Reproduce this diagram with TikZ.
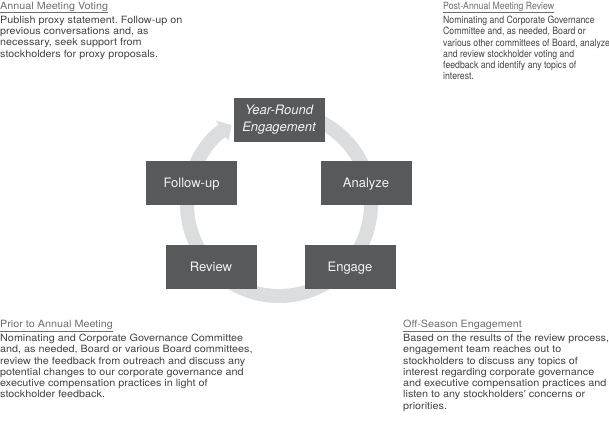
\documentclass[tikz,border=0pt]{standalone}
\usepackage{fontspec}
\setmainfont{TeX Gyre Heros}
\newfontfamily\widefont[FakeStretch=1.08]{TeX Gyre Heros}
\newfontfamily\narrowfont[FakeStretch=0.87]{TeX Gyre Heros}
\usetikzlibrary{arrows.meta}
\definecolor{boxfill}{HTML}{58595B}
\definecolor{ringgray}{HTML}{DCDDDE}
\definecolor{bodytext}{HTML}{434345}
\definecolor{headtext}{HTML}{6D6E71}
\definecolor{boxtext}{HTML}{F2F2F2}
\frenchspacing
\tikzset{
  stagebox/.style={fill=boxfill, text=boxtext, minimum width=91pt, minimum height=44pt,
    inner sep=0pt, align=center, font=\fontsize{13}{16.5}\selectfont},
  oneline/.style={text height=9.4pt, text depth=0pt},
  headtxt/.style={anchor=base west, inner sep=0pt, text=headtext},
  bodytxt/.style={anchor=base west, inner sep=0pt, text=bodytext},
  widetxt/.style={font=\widefont\fontsize{10}{11.25}\selectfont},
  narrowtxt/.style={font=\narrowfont\fontsize{10}{11.3}\selectfont},
  ring/.style={draw=ringgray, line width=14pt, -{Triangle[width=23pt,length=11pt]}}
}
\newcommand{\lines}[1]{\begin{tabular}[t]{@{}l@{}}#1\end{tabular}}
\begin{document}
\begin{tikzpicture}[x=1pt,y=1pt]
\useasboundingbox (0,0) rectangle (609,-424);
\coordinate (C) at (279,-204);
\draw[ring] (C) ++(78:92) arc[start angle=78, end angle=-239, radius=92];

\node[stagebox] (year) at (279,-119.5) {\itshape Year-Round\\\itshape Engagement};
\node[stagebox,oneline] (follow) at (191.5,-183) {Follow-up};
\node[stagebox,oneline] (analyze) at (366,-183) {Analyze};
\node[stagebox,oneline] (review) at (211,-266.5) {Review};
\node[stagebox,oneline] (engage) at (350,-266.5) {Engage};

% top left
\node[headtxt,widetxt] (h1) at (0,-9) {\underline{Annual Meeting Voting}};
\node[bodytxt,widetxt] (b1) at (0,-23.4) {\lines{Publish proxy statement. Follow-up on\\previous conversations and, as\\necessary, seek support from\\stockholders for proxy proposals.}};

% top right
\node[headtxt,narrowtxt] (h2) at (443,-9) {\underline{Post-Annual Meeting Review}};
\node[bodytxt,narrowtxt] (b2) at (443,-23.4) {\lines{Nominating and Corporate Governance\\Committee and, as needed, Board or\\various other committees of Board, analyze\\and review stockholder voting and\\feedback and identify any topics of\\interest.}};

% bottom left
\node[headtxt,widetxt] (h3) at (0,-327.3) {\underline{Prior to Annual Meeting}};
\node[bodytxt,widetxt] (b3) at (0,-341.7) {\lines{Nominating and Corporate Governance Committee\\and, as needed, Board or various Board committees,\\review the feedback from outreach and discuss any\\potential changes to our corporate governance and\\executive compensation practices in light of\\stockholder feedback.}};

% bottom right
\node[headtxt,widetxt] (h4) at (403,-327.3) {\underline{Off-Season Engagement}};
\node[bodytxt,widetxt] (b4) at (403,-341.7) {\lines{Based on the results of the review process,\\engagement team reaches out to\\stockholders to discuss any topics of\\interest regarding corporate governance\\and executive compensation practices and\\listen to any stockholders' concerns or\\priorities.}};
\end{tikzpicture}
\end{document}
